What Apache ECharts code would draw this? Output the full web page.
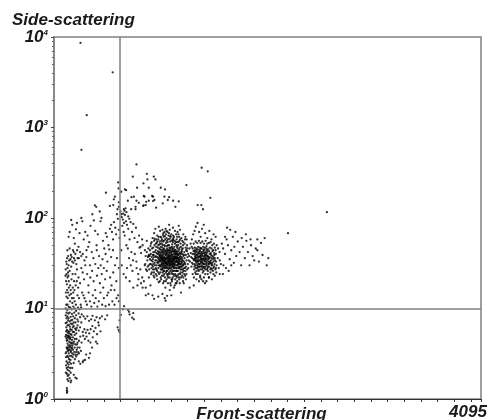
<!DOCTYPE html>
<html><head><meta charset="utf-8">
<style>html,body{margin:0;padding:0;background:#fff}#c{width:489px;height:420px}</style>
<script src="https://cdn.jsdelivr.net/npm/echarts@6/dist/echarts.min.js"></script>
</head><body><div id="c"></div>
<script>
const xTitle='Front-scattering', yTitle='Side-scattering', xEndLabel='4095';
const gateFsc=634, gateSsc=10;
const outliers=[[254,8590],[563,4070],[314,1370],[263,567],[2617,116],[2244,68]];
const upperSparse=[[791,391],[1416,359],[1474,327],[756,286],[890,308],[957,286],[973,267],[896,267],[616,247],[858,241],[619,212],[1270,231],[797,216],[909,216],[1024,216],[1065,207],[645,195],[680,207],[692,203],[498,190],[584,172],[574,161],[766,172],[743,170],[861,175],[868,172],[941,175],[950,172],[1059,172],[1104,170],[1091,158],[1142,155],[1196,153],[1499,167],[708,155],[791,155],[813,147],[884,151],[909,155],[950,154],[963,158],[1043,145],[622,149],[1164,133],[1378,139],[1413,139],[1429,125],[392,138],[405,133],[536,136],[568,139],[622,133],[686,128],[670,125],[740,125],[782,133],[782,125],[855,136],[880,139],[861,138],[979,130],[609,125]];
const upperLeft=[[140,62],[150,70],[165,95],[175,84],[190,60],[200,52],[210,75],[220,88],[235,48],[245,68],[262,100],[272,92],[285,58],[300,70],[312,44],[322,64],[338,54],[350,82],[368,110],[382,94],[395,72],[408,50],[420,66],[438,118],[446,92],[455,100],[470,56],[482,46],[496,68],[508,62],[522,50],[536,76],[548,84],[556,70],[566,58],[575,90],[588,78],[596,66],[604,110],[612,98],[622,74],[628,60],[190,42],[205,40],[222,44],[238,36],[250,42],[262,38],[276,40],[292,34],[310,37],[328,48],[345,30],[362,42],[378,36],[396,31],[410,44],[432,38],[448,30],[465,35],[478,28],[495,40],[512,33],[530,45],[548,37],[566,44],[585,30],[604,36],[622,28],[638,118],[650,102],[660,96],[672,88],[680,108],[690,92],[700,84],[712,76],[722,98],[735,90],[748,70],[760,86],[772,60],[786,78],[800,54],[816,64],[830,48],[845,58],[655,82],[668,70],[678,64],[694,50],[708,46],[725,58],[742,42],[758,34],[775,40],[792,28],[650,30],[668,24],[690,22],[725,20],[760,17],[800,18],[835,19],[880,14],[645,44],[700,28],[648,110],[664,112],[676,120],[695,116],[712,104]];
const midLeft=[[130,28],[140,30],[150,26],[165,29],[178,24],[186,32],[120,24],[130,22],[142,20],[155,18],[168,21],[180,17],[192,20],[205,24],[220,27],[235,22],[250,19],[262,28],[275,25],[288,21],[300,30],[318,24],[330,18],[348,22],[365,26],[380,20],[395,16],[412,23],[425,28],[440,19],[458,24],[472,17],[490,21],[505,26],[520,15],[538,22],[552,18],[568,25],[580,16],[598,20],[615,14],[126,16],[136,15],[148,14],[160,16],[172,13],[185,15],[198,12],[210,11],[225,14],[240,13],[256,11],[270,15],[282,14],[292,13],[304,12],[316,11],[332,15],[345,12],[358,10.5],[372,14],[386,11.5],[400,13],[416,10.5],[430,12],[445,15],[462,11],[478,13],[495,10.6],[510,14],[528,11],[545,16],[560,12],[580,11],[600,13],[622,12],[130,11],[142,10.4],[156,10.2],[170,9.8],[185,10.5],[198,10],[212,9.4],[230,10.2],[245,9.8],[260,10.3]];
const leftColumn=[[118,33],[126,36],[112,27],[122,31],[135,25],[145,34],[116,20],[124,18.5],[110,23],[138,23],[128,44],[136,38],[150,46],[158,35],[170,37],[182,44],[192,36],[174,33],[162,39],[200,34],[214,31],[226,36],[120,13.5],[114,15],[132,13],[142,17],[154,12],[164,14.5],[176,11.5],[188,13],[196,16],[208,18],[218,20],[232,17],[118,11],[128,9.6],[112,10],[138,8.8],[150,9],[160,8.1],[172,8.7],[184,8.2],[194,9],[112,8.4],[122,7],[130,6.5],[140,7.8],[152,6.3],[164,7.4],[176,6.7],[190,6.4],[206,7],[218,6.1],[232,7.2],[116,5.6],[126,5],[136,5.6],[146,5.3],[156,5.9],[168,5.1],[180,5.5],[198,5.1],[212,5.8],[120,4.7],[128,4.5],[144,4.9],[160,4.8],[174,4.2],[186,4.1],[200,4.6],[220,4],[118,3.3],[128,3.7],[138,3.5],[152,3.9],[162,3.4],[172,3.7],[186,3.1],[198,3.7],[212,3.3],[226,3.7],[240,3.2]];
const lowerLeft=[[120,9],[128,8.2],[134,7.4],[142,6.6],[118,6.2],[124,5.8],[132,5.4],[140,5],[148,4.7],[122,4.4],[130,4.1],[138,3.9],[146,4.3],[154,4.6],[125,3.6],[133,3.4],[141,3.2],[149,3.5],[157,3.8],[165,4.1],[128,3],[136,2.9],[144,2.75],[152,3],[160,3.3],[168,3.6],[176,3.9],[120,2.6],[130,2.5],[140,2.4],[150,2.55],[158,2.7],[166,3],[174,3.2],[182,3.5],[122,2.2],[130,2.1],[138,2.25],[146,2.05],[156,2.2],[124,1.9],[132,1.8],[142,1.85],[150,1.7],[160,1.95],[128,1.65],[138,1.58],[160,1.53],[165,1.6],[124,1.32],[124,1.25],[124,1.17],[126,1.21],[190,1.85],[205,1.72],[218,1.68],[175,2.2],[188,2.5],[200,2.75],[212,2.95],[224,3.1],[238,2.6],[252,2.45],[276,2.55],[282,2.65],[298,2.7],[308,3.1],[335,2.85],[345,3.2],[205,3.1],[218,3.5],[232,3.3],[245,3.7],[258,3.4],[172,4.5],[182,4.8],[192,4.3],[204,4],[216,4.6],[226,4.2],[240,4.4],[252,4.9],[264,4.2],[280,5],[296,4.6],[312,4.9],[330,4.4],[350,4.2],[365,3.7],[372,4.8],[402,4.3],[415,4.1],[150,5.6],[160,5.2],[170,5.8],[180,6.2],[192,5.5],[202,6],[214,5.3],[226,6.5],[238,5.7],[250,6.2],[262,7],[276,5.5],[292,5.9],[306,5.4],[322,5.8],[338,5.3],[352,5.9],[368,6.4],[382,5.6],[398,6.1],[412,5.2],[430,6.5],[446,5.6],[610,6.2],[620,5.8],[628,5.5],[150,7.2],[162,6.8],[176,7.5],[188,7],[200,7.8],[212,8.4],[224,7.6],[236,8.8],[250,8],[266,8.6],[284,8.2],[300,7.7],[320,8.2],[336,7.3],[356,7.6],[370,8.3],[392,7.4],[408,8],[425,7],[440,7.8],[460,8.2],[490,7.6],[510,8.4],[120,7.8],[112,6.9],[116,5.1],[110,4.9],[112,3.2],[115,2.9],[116,2.35],[114,1.95],[122,3.7],[135,4.8],[146,3.7],[156,4.2],[164,2.45],[178,2.9],[194,3.3],[628,7.4],[640,8.5],[660,9.8],[672,10.6],[710,9.6],[725,8.6],[750,7.9],[760,8.9],[766,7.6],[720,9.2]];
const bridge=[[820,47],[835,41],[850,50],[872,44],[890,56],[905,38],[720,36],[736,30],[752,26],[790,33],[808,24],[828,27],[846,22],[862,20],[880,17],[905,14.5],[850,17],[810,21],[870,30],[892,26],[910,22],[925,18],[945,14],[960,12.8],[1000,13.5],[1040,14.5],[1062,13],[1070,12.2],[1085,13.8],[1110,16],[1125,14],[1150,17],[1175,19],[1218,15],[1300,17],[1340,18],[1402,22],[1430,20],[1448,19],[1485,22]];
const clusterA=[[890,42],[905,46],[918,38],[930,52],[945,60],[960,68],[972,76],[990,64],[1005,80],[1018,72],[1036,58],[1052,62],[1070,76],[1088,70],[1104,84],[1125,66],[1145,60],[1168,54],[1185,70],[895,34],[908,30],[920,35],[934,28],[946,33],[958,25],[968,30],[978,37],[988,26],[998,33],[1008,24],[1018,29],[1028,21],[1040,27],[1050,23],[1062,30],[1072,20],[1084,26],[1094,22],[1104,28],[1116,19],[1128,25],[1138,22],[1150,28],[1162,21],[1175,26],[1186,23],[1198,29],[1210,24],[1224,27],[1240,22],[1256,28],[940,46],[952,42],[964,50],[975,44],[985,53],[995,47],[1005,41],[1014,55],[1024,48],[1034,52],[1044,44],[1054,56],[1064,49],[1074,53],[1084,46],[1094,58],[1104,50],[1114,55],[1124,47],[1134,51],[1144,57],[1154,48],[1164,44],[1174,50],[1184,46],[1194,54],[1204,47],[1214,52],[1226,45],[1238,50],[1250,42],[1262,47],[975,38],[984,34],[992,40],[1000,36],[1006,30],[1012,38],[1018,34],[1024,41],[1030,31],[1036,37],[1042,33],[1048,40],[1054,29],[1060,36],[1066,32],[1072,39],[1078,28],[1084,35],[1090,31],[1096,38],[1102,33],[1108,41],[1114,30],[1120,36],[1126,32],[1132,39],[1138,29],[1144,35],[1150,31],[1156,38],[1162,33],[1168,40],[1174,30],[1180,36],[1186,32],[1192,39],[1198,34],[1204,37],[1210,31],[1216,40],[1222,33],[1228,36],[1234,30],[1240,38],[1246,33],[1252,36],[1258,31],[1264,39],[1270,34],[1010,42],[1016,45],[1022,36],[1028,44],[1034,35],[1040,42],[1046,36],[1052,45],[1058,34],[1064,43],[1070,35],[1076,42],[1082,33],[1088,43],[1094,34],[1100,44],[1106,36],[1112,43],[1118,34],[1124,41],[1130,35],[1136,43],[1142,33],[1148,42],[1154,35],[1160,43],[1166,36],[1172,42],[1178,34],[1184,41],[1190,36],[1196,43],[1202,33],[1208,41],[1214,35],[1220,42],[1226,32],[1232,40],[1026,30],[1032,27],[1038,31],[1044,28],[1050,32],[1056,26],[1062,33],[1068,28],[1074,32],[1080,26],[1086,31],[1092,28],[1098,32],[1104,25],[1110,31],[1116,28],[1122,33],[1128,27],[1134,31],[1140,26],[1146,32],[1152,28],[1158,30],[1164,26],[1170,33],[1176,28],[1182,30],[1188,26],[1194,31],[1200,28],[1206,33],[1212,27],[1218,31],[1224,29],[1230,34],[1236,27],[1242,31],[1248,28],[1254,32],[1260,26],[920,44],[928,40],[938,37],[948,35],[956,39],[966,32],[928,31],[938,25],[950,27],[962,22],[976,24],[990,21],[1004,19.5],[1020,25],[1036,23],[1046,19],[1058,24],[1068,17],[1080,21],[1096,24],[1108,22],[1120,18],[1134,21],[1146,24],[1158,18],[1170,23],[1182,20],[1194,24],[1206,19],[1218,22],[1232,25],[1244,19],[1258,23],[1270,24],[1276,43],[1280,37],[1284,31],[1276,50],[1272,58],[1260,62],[1240,66],[1222,60],[1208,74],[1196,82],[1180,62],[1160,72],[1140,78],[1110,74],[1082,56],[1060,70],[1040,74],[1020,62],[1000,58],[980,58],[960,56],[1118,62],[1098,64],[1074,66],[1050,68],[1130,56],[1150,62],[1176,58],[1200,62],[1230,56],[1020,52],[1042,50],[1066,58],[1090,54],[1110,59],[1140,54],[1160,52],[1190,50],[1210,58],[1240,54],[1256,58],[1000,50],[980,48],[1030,56]];
const clusterACore=[[1043,38.5],[1067,31.5],[1091,36.5],[1013,33.5],[1129,37.5],[1152,34.5],[1077,35.5],[1109,29.5],[1061,41],[1137,31],[1171,38],[1035,29],[1099,41.5],[1121,33],[1183,35],[1057,37.5],[1145,39.5],[1021,39],[1087,29],[1113,38.5],[1159,31],[1073,44],[1127,28.5],[1047,34],[1193,36],[1007,35],[1141,46],[1165,35.5],[1081,37],[1103,35],[1053,31],[1119,44],[1177,32.5],[1031,42],[1093,33],[1149,37],[1069,39.5],[1133,35],[1015,30],[1187,39],[1041,36.5],[1107,32],[1163,41],[1085,41],[1125,39],[1059,28],[1197,31.5],[1027,37],[1143,33.5],[1071,33],[1117,37],[1155,29],[1095,30],[1179,43],[1049,42],[1135,45],[1009,39],[1205,35],[1065,36],[1111,46],[1173,36.5],[1037,32],[1147,43],[1089,38.5],[1123,30],[1055,46],[1169,28],[1075,30],[1139,37],[1101,39],[1191,33],[1023,33],[1157,40],[1083,31],[1115,34],[1199,40],[1045,30],[1131,33],[1063,34],[1153,31.5],[1097,36],[1181,37],[1029,35],[1105,37.5],[1167,33],[1051,35.5],[1079,40],[1127,42],[1211,38],[1033,39],[1161,37],[1091,44],[1141,29.5],[1017,37],[1069,29],[1185,30],[1119,31],[1207,31],[1039,34],[1151,36],[1077,32],[1109,34],[1175,40],[993,37],[1003,32],[1219,37],[1233,34],[1247,39],[983,41],[997,43],[1227,43],[1241,30],[1131,48],[1083,49],[1059,50],[1179,48],[1037,47],[1107,47],[1155,45],[1201,45],[1011,46],[1149,26],[1117,26],[1085,24],[1051,26],[1179,26],[1211,29],[1025,27],[1135,24],[1163,24],[1099,27],[1073,25],[1191,28],[1001,28],[1221,29],[1243,26],[985,30],[971,34],[959,37],[947,39],[953,31],[967,42],[941,30],[977,28],[991,32]];
const clusterAEdge=[[925,49],[937,54],[951,47],[963,59],[977,52],[991,55],[1003,62],[1011,51],[1027,61],[1047,55],[1063,63],[1079,60],[1093,50],[1115,63],[1137,58],[1157,56],[1181,54],[1203,56],[1219,48],[1235,46],[1253,52],[1267,44],[1279,46],[1287,40],[1292,34],[1288,28],[1277,27],[1265,29],[1249,24],[1229,23],[1213,25],[1199,22],[1177,22],[1153,23],[1131,20],[1111,24],[1089,23],[1065,22],[1043,25],[1023,22],[1001,25],[983,27],[965,27],[949,29],[933,34],[921,31],[911,39],[901,37],[899,29],[913,27],[931,24],[955,23],[985,23],[1015,20],[1055,20],[1093,19],[1127,21],[1167,19],[1201,21],[1237,20],[1265,21],[879,38],[875,31],[883,27],[1143,64],[1171,66],[1103,68],[1079,72],[1045,65],[1193,66]];
const clusterB=[[1300,46],[1310,52],[1322,58],[1335,66],[1348,72],[1360,80],[1376,88],[1392,70],[1406,62],[1420,76],[1436,84],[1450,68],[1470,60],[1490,72],[1510,58],[1530,66],[1550,62],[1296,38],[1304,33],[1312,41],[1318,29],[1326,36],[1332,31],[1338,43],[1344,27],[1350,35],[1356,30],[1362,39],[1368,26],[1374,34],[1380,29],[1386,42],[1392,31],[1398,37],[1404,27],[1410,35],[1416,30],[1422,40],[1428,28],[1434,36],[1440,31],[1446,41],[1452,27],[1458,35],[1464,30],[1470,38],[1476,26],[1482,33],[1488,29],[1494,37],[1500,27],[1506,34],[1512,30],[1518,38],[1524,26],[1530,33],[1536,29],[1542,36],[1548,27],[1554,33],[1560,30],[1570,36],[1580,28],[1590,34],[1600,31],[1320,48],[1330,46],[1340,52],[1350,47],[1358,55],[1366,46],[1374,53],[1382,48],[1390,56],[1398,47],[1406,53],[1414,46],[1422,55],[1430,48],[1438,52],[1446,47],[1454,56],[1462,49],[1470,52],[1478,45],[1486,53],[1494,47],[1502,54],[1510,46],[1518,50],[1526,44],[1534,52],[1542,47],[1550,44],[1560,50],[1574,46],[1588,42],[1330,24],[1342,22],[1354,25],[1366,21],[1378,24],[1390,20],[1402,23],[1414,21],[1426,25],[1438,22],[1450,24],[1462,20],[1474,24],[1486,22],[1500,25],[1514,21],[1528,24],[1542,23],[1556,25],[1344,40],[1352,43],[1360,37],[1368,42],[1376,37],[1384,35],[1392,41],[1400,43],[1408,38],[1416,42],[1424,34],[1432,43],[1440,38],[1448,35],[1456,42],[1464,36],[1472,42],[1480,37],[1488,43],[1496,33],[1504,41],[1512,36],[1520,43],[1528,37],[1536,41],[1544,34],[1552,40],[1350,31],[1360,28],[1372,30],[1384,27],[1396,29],[1408,32],[1420,27],[1432,31],[1444,28],[1456,31],[1468,27],[1480,31],[1492,32],[1504,28],[1516,32],[1528,28],[1540,31],[1552,28],[1610,52],[1622,46],[1640,40],[1655,58],[1668,50],[1685,35],[1700,44],[1715,62],[1730,48],[1748,38],[1762,55],[1780,42],[1795,30],[1812,48],[1830,36],[1845,56],[1860,42],[1875,30],[1890,50],[1905,38],[1920,34],[1935,46],[1950,44],[1965,33],[1985,53],[2000,39],[2020,60],[2040,30],[2055,36],[1625,30],[1650,28],[1675,26],[1700,30],[1725,32],[1590,24],[1620,24],[1640,62],[1690,74],[1740,70],[1660,78],[1800,60],[1840,66],[1885,58],[1950,58]];
const clusterBCore=[[1377,33],[1413,38.5],[1441,34],[1397,44],[1463,40],[1351,38],[1429,31.5],[1387,37],[1481,35],[1369,32],[1449,37],[1405,33.5],[1433,45],[1361,34],[1477,29],[1391,29],[1457,33],[1419,35.5],[1373,39],[1493,40],[1343,34],[1439,29],[1403,40],[1471,34],[1383,31],[1425,38],[1355,41],[1459,38.5],[1411,29],[1499,32],[1365,36],[1445,33],[1395,34],[1467,44],[1379,45],[1431,35],[1347,29],[1489,36],[1417,33],[1453,29],[1371,28],[1409,36],[1485,31],[1381,40],[1437,41],[1359,33],[1465,32],[1393,38],[1423,29],[1507,39],[1399,31],[1447,39],[1353,36],[1475,38],[1415,41],[1385,33],[1509,31],[1443,44],[1367,44],[1421,32],[1329,40],[1337,35],[1323,32],[1315,37],[1527,35],[1537,39],[1519,30],[1407,46],[1461,46],[1349,44],[1389,26],[1435,26],[1473,28],[1361,24],[1513,27]];
const dotSeries=[outliers,upperSparse,upperLeft,midLeft,leftColumn,lowerLeft,bridge,clusterA,clusterACore,clusterAEdge,clusterB,clusterBCore];
const titleFont={fontStyle:'italic',fontWeight:'bold',fontFamily:'"Liberation Sans"',color:'#1a1a1a'};
const labelRich={t:{...titleFont,fontSize:17},s:{...titleFont,fontSize:8,verticalAlign:'top',padding:[0,0,7,0]}};
const chart=echarts.init(document.getElementById('c'),null,{renderer:'canvas'});
const series=dotSeries.map(d=>({type:'scatter',data:d,symbol:'circle',symbolSize:2.3,itemStyle:{color:'#000'},silent:true,animation:false}));
series[0].markLine={silent:true,symbol:'none',animation:false,label:{show:false},lineStyle:{color:'#808080',width:1.5,type:'solid'},data:[{xAxis:gateFsc},{yAxis:gateSsc}]};
chart.setOption({
  animation:false,backgroundColor:'#fff',
  grid:{left:54,right:8,top:37,bottom:21,show:true,borderColor:'#808080',borderWidth:1.5,backgroundColor:'transparent',outerBoundsMode:'none',containLabel:false},
  xAxis:{type:'value',min:0,max:4095,interval:160,splitLine:{show:false},
    axisLine:{lineStyle:{color:'#333',width:1}},axisTick:{length:3,lineStyle:{color:'#333'}},
    axisLabel:{margin:5,padding:[0,26,0,0],...titleFont,fontSize:17,showMaxLabel:true,formatter:v=>v===4095?xEndLabel:''},
    name:xTitle,nameLocation:'middle',nameGap:7,nameMoveOverlap:false,nameTextStyle:{...titleFont,fontSize:17,padding:[0,12,0,0]}},
  yAxis:{type:'log',logBase:10,min:1,max:10000,splitLine:{show:false},
    axisLine:{show:true,lineStyle:{color:'#808080',width:1.5}},
    axisTick:{show:true,length:3,lineStyle:{color:'#444'}},
    minorTick:{show:true,splitNumber:9,length:2,lineStyle:{color:'#666'}},minorSplitLine:{show:false},
    axisLabel:{margin:6,rich:labelRich,formatter:v=>'{t|10}{s|'+Math.round(Math.log10(v))+'}'},
    name:yTitle,nameLocation:'end',nameGap:8,nameMoveOverlap:false,nameTextStyle:{...titleFont,fontSize:17,align:'left',padding:[0,0,0,-42]}},
  series
});
</script></body></html>
